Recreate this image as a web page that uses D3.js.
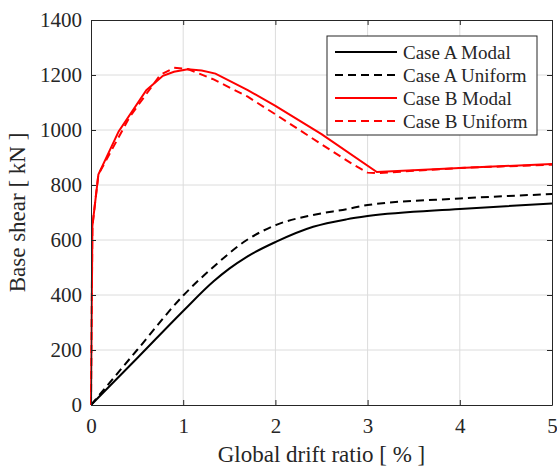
<!DOCTYPE html>
<meta charset="utf-8">
<style>
body { margin: 0; background: #fff; }
text { font-family: "Liberation Serif", "Times New Roman", serif; fill: #262626; }
.grid line { stroke: #dcdcdc; stroke-width: 1; }
.line { fill: none; stroke-width: 2; }
</style>
<svg width="557" height="466"></svg>
<script src="https://cdn.jsdelivr.net/npm/d3@7"></script>
<script>

// drift ratio [%] and base shear [kN]
var aModalX   = [0, 0.5, 1, 1.33, 1.5, 1.69, 2.01, 2.41, 2.77, 3.0, 4, 5];
var aModalY   = [0, 170, 342, 450, 496, 539, 594, 648, 675, 687, 713, 733];
var aUniformX = [0, 0.5, 1, 1.33, 1.69, 2.01, 2.41, 2.77, 3.0, 4, 5];
var aUniformY = [0, 200, 398, 503, 600, 655, 691, 712, 727, 751, 767];
var bModalX   = [0, 0.015, 0.08, 0.3, 0.6, 0.78, 0.9, 1.05, 1.2, 1.35, 1.7, 2.0, 2.5, 3.1, 4, 5];
var bModalY   = [0, 650, 838, 995, 1145, 1197, 1212, 1221, 1216, 1205, 1145, 1088, 985, 847, 862, 876];
var bUniformX = [0, 0.015, 0.08, 0.42, 0.75, 0.9, 1.05, 1.33, 1.7, 2.0, 2.5, 2.85, 3.0, 3.1, 4, 5];
var bUniformY = [0, 650, 838, 1048, 1200, 1226, 1222, 1184, 1121, 1057, 948, 873, 845, 843, 862, 874];

var xTicks = [0, 1, 2, 3, 4, 5];
var yTicks = [0, 200, 400, 600, 800, 1000, 1200, 1400];

var series = [
  {name: "Case A Modal",   xs: aModalX,   ys: aModalY,   color: "#000", dash: null,  smooth: true},
  {name: "Case A Uniform", xs: aUniformX, ys: aUniformY, color: "#000", dash: "8,5", smooth: true},
  {name: "Case B Modal",   xs: bModalX,   ys: bModalY,   color: "#ff0000", dash: null,  smooth: false},
  {name: "Case B Uniform", xs: bUniformX, ys: bUniformY, color: "#ff0000", dash: "8,5", smooth: false}
];

var svg = d3.select("svg"),
    margin = {top: 20, right: 5, bottom: 61, left: 91},
    width = 552 - margin.left,
    height = 405 - margin.top;

var g = svg.append("g").attr("transform", "translate(" + margin.left + "," + margin.top + ")");

var x = d3.scaleLinear().domain([0, 5]).range([0, width]),
    y = d3.scaleLinear().domain([0, 1400]).range([height, 0]);

// grid
g.append("g").attr("class", "grid")
  .selectAll("line").data(xTicks.slice(1, -1)).enter().append("line")
    .attr("x1", x).attr("x2", x).attr("y1", 0).attr("y2", height);
g.append("g").attr("class", "grid")
  .selectAll("line").data(yTicks.slice(1, -1)).enter().append("line")
    .attr("y1", y).attr("y2", y).attr("x1", 0).attr("x2", width);

// lines
var line = d3.line().x(function(d) { return x(d[0]); }).y(function(d) { return y(d[1]); });

series.forEach(function(s) {
  var pts = s.xs.map(function(v, i) { return [v, s.ys[i]]; });
  line.curve(s.smooth ? d3.curveMonotoneX : d3.curveLinear);
  g.append("path")
    .attr("class", "line")
    .attr("d", line(pts))
    .style("stroke", s.color)
    .style("stroke-dasharray", s.dash);
});

// axes, matlab style: ticks inside, box on
function styleAxis(sel) {
  sel.attr("font-family", null).attr("font-size", null);
  sel.select(".domain").attr("stroke", "#262626").attr("stroke-width", 1);
  sel.selectAll(".tick line").attr("stroke", "#262626");
  sel.selectAll("text")
    .style("font-family", '"Liberation Serif", serif')
    .style("font-size", "21px")
    .attr("fill", "#262626");
}
var fmt = d3.format("d");
g.append("g")
  .attr("transform", "translate(0," + height + ")")
  .call(d3.axisBottom(x).tickValues(xTicks).tickFormat(fmt).tickSize(-5).tickSizeOuter(0).tickPadding(13))
  .call(styleAxis);
g.append("g")
  .call(d3.axisLeft(y).tickValues(yTicks).tickFormat(fmt).tickSize(-5).tickSizeOuter(0).tickPadding(9))
  .call(styleAxis);
g.append("g")
  .call(d3.axisTop(x).tickValues(xTicks).tickSize(-5).tickSizeOuter(0).tickFormat(""))
  .call(styleAxis);
g.append("g")
  .attr("transform", "translate(" + width + ",0)")
  .call(d3.axisRight(y).tickValues(yTicks).tickSize(-5).tickSizeOuter(0).tickFormat(""))
  .call(styleAxis);

// axis titles
svg.append("text")
  .attr("x", margin.left + width / 2)
  .attr("y", 462)
  .attr("text-anchor", "middle")
  .style("font-size", "23px")
  .text("Global drift ratio [ % ]");

svg.append("text")
  .attr("transform", "translate(25," + (margin.top + height / 2) + ") rotate(-90)")
  .attr("text-anchor", "middle")
  .style("font-size", "23px")
  .text("Base shear [ kN ]");

// legend
var legend = svg.append("g").attr("transform", "translate(327,36)");
legend.append("rect")
  .attr("width", 210).attr("height", 99)
  .attr("fill", "#fff").attr("stroke", "#262626").attr("stroke-width", 1);
var item = legend.selectAll(".item").data(series).enter().append("g")
  .attr("transform", function(d, i) { return "translate(0," + (16 + i * 23) + ")"; });
item.append("line")
  .attr("x1", 8).attr("x2", 70)
  .attr("stroke-width", 2)
  .attr("stroke", function(d) { return d.color; })
  .style("stroke-dasharray", function(d) { return d.dash; });
item.append("text")
  .attr("x", 76).attr("y", 6.5)
  .style("font-size", "19px")
  .text(function(d) { return d.name; });

</script>
